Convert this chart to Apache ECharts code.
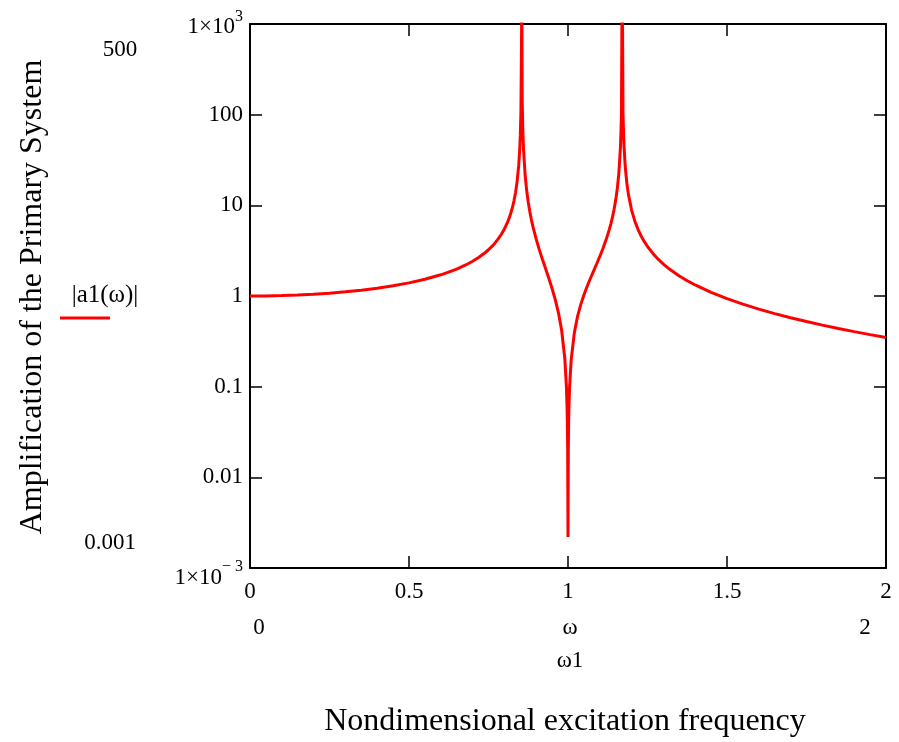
<!DOCTYPE html>
<html>
<head>
<meta charset="utf-8">
<script src="https://cdn.jsdelivr.net/npm/echarts@6/dist/echarts.min.js"></script>
<style>html,body{margin:0;padding:0;background:#fff;}#c{width:899px;height:742px;}</style>
</head>
<body>
<div id="c"></div>
<script>
// Nondimensional excitation frequency ω (x) and |a1(ω)| (y)
const omega = [0, 0.05, 0.1, 0.15, 0.2, 0.25, 0.3, 0.35, 0.4, 0.45, 0.5, 0.55, 0.6, 0.62, 0.65, 0.68, 0.7, 0.72, 0.74, 0.75, 0.76, 0.77, 0.78, 0.79, 0.8, 0.81, 0.815, 0.82, 0.825, 0.83, 0.835, 0.84, 0.845, 0.848, 0.85, 0.852, 0.854, 0.8543, 0.856, 0.858, 0.86, 0.865, 0.87, 0.875, 0.88, 0.885, 0.89, 0.9, 0.91, 0.92, 0.93, 0.94, 0.95, 0.96, 0.97, 0.98, 0.99, 0.995, 0.997, 0.998, 0.999, 1.0, 1.001, 1.002, 1.003, 1.005, 1.01, 1.02, 1.03, 1.04, 1.05, 1.06, 1.07, 1.08, 1.09, 1.1, 1.11, 1.12, 1.13, 1.135, 1.14, 1.145, 1.15, 1.155, 1.16, 1.165, 1.168, 1.1705, 1.173, 1.176, 1.18, 1.185, 1.19, 1.2, 1.21, 1.22, 1.23, 1.24, 1.25, 1.27, 1.28, 1.3, 1.32, 1.35, 1.375, 1.4, 1.45, 1.5, 1.55, 1.6, 1.65, 1.7, 1.75, 1.8, 1.85, 1.9, 1.95, 2.0];
const amplitude = [1, 1.003, 1.011, 1.025, 1.046, 1.074, 1.111, 1.158, 1.218, 1.295, 1.395, 1.529, 1.713, 1.808, 1.983, 2.214, 2.416, 2.674, 3.018, 3.237, 3.501, 3.825, 4.233, 4.765, 5.488, 6.531, 7.249, 8.174, 9.41, 11.15, 13.79, 18.27, 27.55, 40.17, 58.3, 108, 801, 5000, 144.9, 65.8, 42.3, 22.02, 14.65, 10.84, 8.5, 6.919, 5.777, 4.232, 3.228, 2.516, 1.98, 1.556, 1.2075, 0.9115, 0.6523, 0.4192, 0.2039, 0.1009, 0.0603, 0.04, 0.02, 0.0022, 0.02, 0.04, 0.0597, 0.0994, 0.1978, 0.3945, 0.5948, 0.8039, 1.0276, 1.273, 1.55, 1.871, 2.255, 2.731, 3.347, 4.19, 5.428, 6.3, 7.453, 9.05, 11.42, 15.3, 22.86, 44.03, 96.8, 5000, 100.8, 45.74, 26.63, 17.59, 13.2, 8.871, 6.728, 5.445, 4.589, 3.975, 3.512, 2.859, 2.62, 2.247, 1.97, 1.664, 1.474, 1.323, 1.0967, 0.9346, 0.8122, 0.7164, 0.6392, 0.5757, 0.5225, 0.4772, 0.4384, 0.4046, 0.375, 0.3488];

const xTickLabels = ['0', '0.5', '1', '1.5', '2'];
const yTickValues = [0.001, 0.01, 0.1, 1, 10, 100, 1000];
const yTickLabels = ['{low|1×10}{lowsup|− 3}', '0.01', '0.1', '1', '10', '100', '{top|1×10}{sup|3}'];
const seriesName = '|a1(ω)|';

const FONT = '"Liberation Serif", "Times New Roman", serif';
const chart = echarts.init(document.getElementById('c'));
const data = omega.map((w, i) => [w, amplitude[i]]);

const axisLine = { show: true, onZero: false, lineStyle: { color: '#000', width: 2 } };
const tick = { show: true, inside: true, length: 12, lineStyle: { color: '#000', width: 1.5 } };

chart.setOption({
  animation: false,
  backgroundColor: '#fff',
  grid: { left: 250, top: 24, width: 636, height: 544, containLabel: false },
  xAxis: [
    {
      type: 'value', min: 0, max: 2, interval: 0.5, position: 'bottom',
      axisLine, axisTick: tick, splitLine: { show: false },
      axisLabel: {
        margin: 12, color: '#000', fontFamily: FONT, fontSize: 23,
        formatter: (v) => xTickLabels[Math.round(v / 0.5)]
      }
    },
    {
      type: 'value', min: 0, max: 2, interval: 0.5, position: 'top',
      axisLine, axisTick: tick, splitLine: { show: false }, axisLabel: { show: false }
    }
  ],
  yAxis: [
    {
      type: 'log', logBase: 10, min: 0.001, max: 1000, position: 'left',
      axisLine, axisTick: tick, splitLine: { show: false }, minorTick: { show: false },
      axisLabel: {
        margin: 7, color: '#000', fontFamily: FONT, fontSize: 23,
        formatter: (v) => {
          const i = yTickValues.findIndex(t => Math.abs(Math.log10(t) - Math.log10(v)) < 1e-6);
          return i >= 0 ? yTickLabels[i] : '';
        },
        rich: {
          top: { fontFamily: FONT, fontSize: 23, color: '#000', padding: [6, 0, 0, 0] },
          sup: { fontFamily: FONT, fontSize: 16, color: '#000', padding: [0, 0, 14, 0] },
          low: { fontFamily: FONT, fontSize: 23, color: '#000', padding: [20, 0, 0, 0] },
          lowsup: { fontFamily: FONT, fontSize: 16, color: '#000', padding: [0, 0, 2, 0] }
        }
      }
    },
    {
      type: 'log', logBase: 10, min: 0.001, max: 1000, position: 'right',
      axisLine, axisTick: tick, splitLine: { show: false }, axisLabel: { show: false }
    }
  ],
  series: [{
    name: seriesName,
    type: 'line',
    data: data,
    showSymbol: false,
    smooth: false,
    clip: true,
    lineStyle: { color: '#ff0000', width: 3 },
    itemStyle: { color: '#ff0000' }
  }],
  graphic: [
    { type: 'text', x: 120, y: 50, style: { text: '500', font: '23px ' + FONT, fill: '#000', align: 'center', verticalAlign: 'middle' } },
    { type: 'text', x: 110, y: 543, style: { text: '0.001', font: '23px ' + FONT, fill: '#000', align: 'center', verticalAlign: 'middle' } },
    { type: 'text', x: 259, y: 628, style: { text: '0', font: '23px ' + FONT, fill: '#000', align: 'center', verticalAlign: 'middle' } },
    { type: 'text', x: 570, y: 628, style: { text: 'ω', font: '23px ' + FONT, fill: '#000', align: 'center', verticalAlign: 'middle' } },
    { type: 'text', x: 865, y: 628, style: { text: '2', font: '23px ' + FONT, fill: '#000', align: 'center', verticalAlign: 'middle' } },
    { type: 'text', x: 570, y: 661, style: { text: 'ω1', font: '23px ' + FONT, fill: '#000', align: 'center', verticalAlign: 'middle' } },
    { type: 'text', x: 565, y: 722, style: { text: 'Nondimensional excitation frequency', font: '32px ' + FONT, fill: '#000', align: 'center', verticalAlign: 'middle' } },
    { type: 'text', x: 33, y: 297, rotation: Math.PI / 2, style: { text: 'Amplification of the Primary System', font: '32px ' + FONT, fill: '#000', align: 'center', verticalAlign: 'middle' } },
    { type: 'text', x: 105, y: 295, style: { text: seriesName, font: '25px ' + FONT, fill: '#000', align: 'center', verticalAlign: 'middle' } },
    { type: 'line', shape: { x1: 60, y1: 318, x2: 110, y2: 318 }, style: { stroke: '#ff0000', lineWidth: 3 } }
  ]
});
</script>
</body>
</html>
